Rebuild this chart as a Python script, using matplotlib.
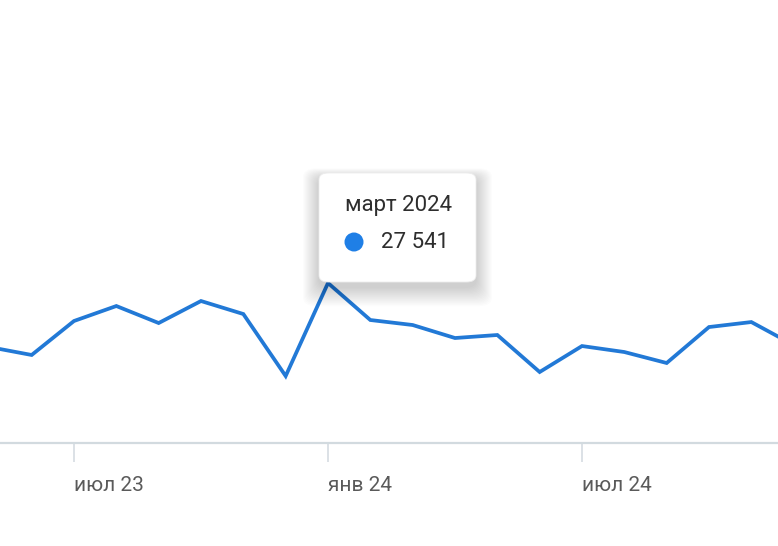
import matplotlib
matplotlib.use("Agg")
import matplotlib.pyplot as plt
from matplotlib.patches import FancyBboxPatch, Ellipse

# monthly values, May 2023 .. Dec 2024
months = ["май 23", "июн 23", "июл 23", "авг 23", "сен 23", "окт 23", "ноя 23", "дек 23",
          "янв 24", "фев 24", "мар 24", "апр 24", "май 24", "июн 24", "июл 24", "авг 24",
          "сен 24", "окт 24", "ноя 24", "дек 24"]
values = [16520, 15150, 21000, 23580, 20650, 24440, 22200, 11530,
          27541, 21170, 20310, 18070, 18590, 12220, 16690, 15660,
          13770, 19960, 20820, 16870]
tick_months = ["июл 23", "янв 24", "июл 24"]
tooltip_title = "март 2024"
tooltip_value = "27 541"

W, H = 778, 546
plt.rcParams["font.family"] = ["Roboto", "DejaVu Sans"]
fig = plt.figure(figsize=(W / 100, H / 100), dpi=100)
ax = fig.add_axes([0, (H - 443) / H, 1, 443 / H])

x = list(range(len(months)))
ax.plot(x, values, color="#2279d6", lw=2.7, solid_joinstyle="miter", zorder=2)

step = 254 / 6  # px per month
left = 2 - 74 / step
ax.set_xlim(left, left + W / step)
ax.set_ylim(0, 443 * 27541 / 160)

for s in ["top", "right", "left"]:
    ax.spines[s].set_visible(False)
ax.spines["bottom"].set_color("#d2dadf")
ax.spines["bottom"].set_linewidth(1.6)
ax.set_yticks([])
ax.set_xticks([months.index(m) for m in tick_months])
ax.set_xticklabels(tick_months)
ax.tick_params(axis="x", length=14, width=1.2, color="#d5dce1", labelcolor="#5a5a5a",
               labelsize=15, pad=10)
for lab in ax.get_xticklabels():
    lab.set_horizontalalignment("left")


def fx(px):
    return px / W


def fy(py):
    return 1 - py / H


# tooltip with soft shadow
bx0, by0, bx1, by1 = 319, 173, 476, 282
for i in range(16, 0, -1):
    sh = FancyBboxPatch((fx(bx0 - i * 1.0), fy(by1 + 5 + i * 1.2)),
                        (bx1 - bx0 + i * 2.0) / W, (by1 - by0 + i * 1.8) / H,
                        boxstyle="round,pad=0,rounding_size=0.016",
                        transform=fig.transFigure, facecolor="black",
                        edgecolor="none", alpha=0.011, zorder=5)
    fig.add_artist(sh)
box = FancyBboxPatch((fx(bx0), fy(by1)), (bx1 - bx0) / W, (by1 - by0) / H,
                     boxstyle="round,pad=0,rounding_size=0.012",
                     transform=fig.transFigure, facecolor="white",
                     edgecolor="#ececec", lw=0.6, zorder=6)
fig.add_artist(box)
fig.text(fx(345), fy(206), tooltip_title, fontsize=16, color="#2e2e2e",
         va="center", ha="left", zorder=7)
fig.add_artist(Ellipse((fx(354), fy(242)), 19 / W, 19 / H, transform=fig.transFigure,
                       facecolor="#1f7fe6", edgecolor="none", zorder=7))
fig.text(fx(381), fy(242), tooltip_value, fontsize=16, color="#2e2e2e",
         va="center", ha="left", zorder=7)

fig.savefig("out.png", dpi=100)
